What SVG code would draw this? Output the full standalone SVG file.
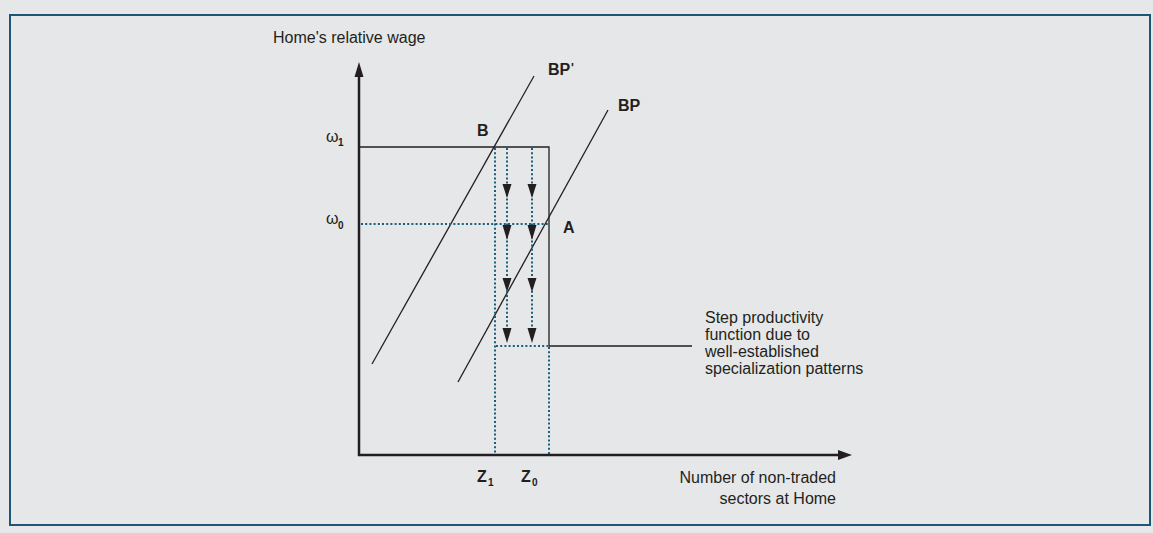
<svg xmlns="http://www.w3.org/2000/svg" width="1153" height="533" viewBox="0 0 1153 533">
<style>
text{font-family:"Liberation Sans",Arial,sans-serif;fill:#231f20;font-size:16px}
.b{font-weight:bold}
.sub{font-size:10px;font-weight:bold}
.axis{stroke:#231f20;stroke-width:2.5;fill:none}
.solid{stroke:#231f20;stroke-width:1.3;fill:none}
.dot{stroke:#1b5e7b;stroke-width:2;stroke-dasharray:2 2.2;fill:none}
.head{fill:#231f20}
</style>
<rect x="0" y="0" width="1153" height="533" fill="#e6e7e8"/>
<rect x="10" y="15" width="1140" height="510" fill="#e6e7e8" stroke="#1d5775" stroke-width="2"/>
<g id="axes">
<line class="axis" x1="359" y1="72" x2="359" y2="456"/>
<polygon class="head" points="359,62 354.5,77 363.5,77"/>
<line class="axis" x1="358" y1="455" x2="842" y2="455"/>
<polygon class="head" points="852,455 838,450 838,460"/>
<text x="273" y="43">Home's relative wage</text>
<text x="836" y="483" text-anchor="end">Number of non-traded</text>
<text x="836" y="504" text-anchor="end">sectors at Home</text>
</g>
<g id="labels">
<text x="326" y="142">ω</text><text class="sub" x="338" y="146">1</text>
<text x="326" y="224">ω</text><text class="sub" x="338" y="229">0</text>
<text class="b" x="477" y="482">Z</text><text class="sub" x="488" y="486">1</text>
<text class="b" x="521" y="482">Z</text><text class="sub" x="532" y="486">0</text>
</g>
<g id="BPprime">
<line class="solid" x1="372" y1="364" x2="534" y2="76"/>
<text class="b" x="548" y="75">BP</text><text class="b" x="571" y="72" style="font-size:12px">'</text>
</g>
<g id="BP">
<line class="solid" x1="458" y1="382" x2="608" y2="110"/>
<text class="b" x="618" y="111">BP</text>
</g>
<g id="pointB"><text class="b" x="477" y="136">B</text></g>
<g id="pointA"><text class="b" x="563" y="233">A</text></g>
<g id="step">
<polyline class="solid" points="359,147 549,147 549,346 692,346"/>
<text x="705" y="323">Step productivity</text>
<text x="705" y="340">function due to</text>
<text x="705" y="357">well-established</text>
<text x="705" y="374">specialization patterns</text>
</g>
<g id="connectors">
<line class="dot" x1="361" y1="224" x2="549" y2="224"/>
<line class="dot" x1="495" y1="148" x2="495" y2="454"/>
<line class="dot" x1="549" y1="347" x2="549" y2="454"/>
<line class="dot" x1="496" y1="346" x2="548" y2="346"/>
<line class="dot" x1="507" y1="148" x2="507" y2="340"/>
<line class="dot" x1="532" y1="148" x2="532" y2="340"/>
<polygon class="head" points="502.5,184 511.5,184 507,198"/>
<polygon class="head" points="527.5,184 536.5,184 532,198"/>
<polygon class="head" points="502.5,225 511.5,225 507,240"/>
<polygon class="head" points="527.5,225 536.5,225 532,240"/>
<polygon class="head" points="502.5,278 511.5,278 507,292"/>
<polygon class="head" points="527.5,278 536.5,278 532,292"/>
<polygon class="head" points="502.5,328 511.5,328 507,343"/>
<polygon class="head" points="527.5,328 536.5,328 532,343"/>
</g>
</svg>
